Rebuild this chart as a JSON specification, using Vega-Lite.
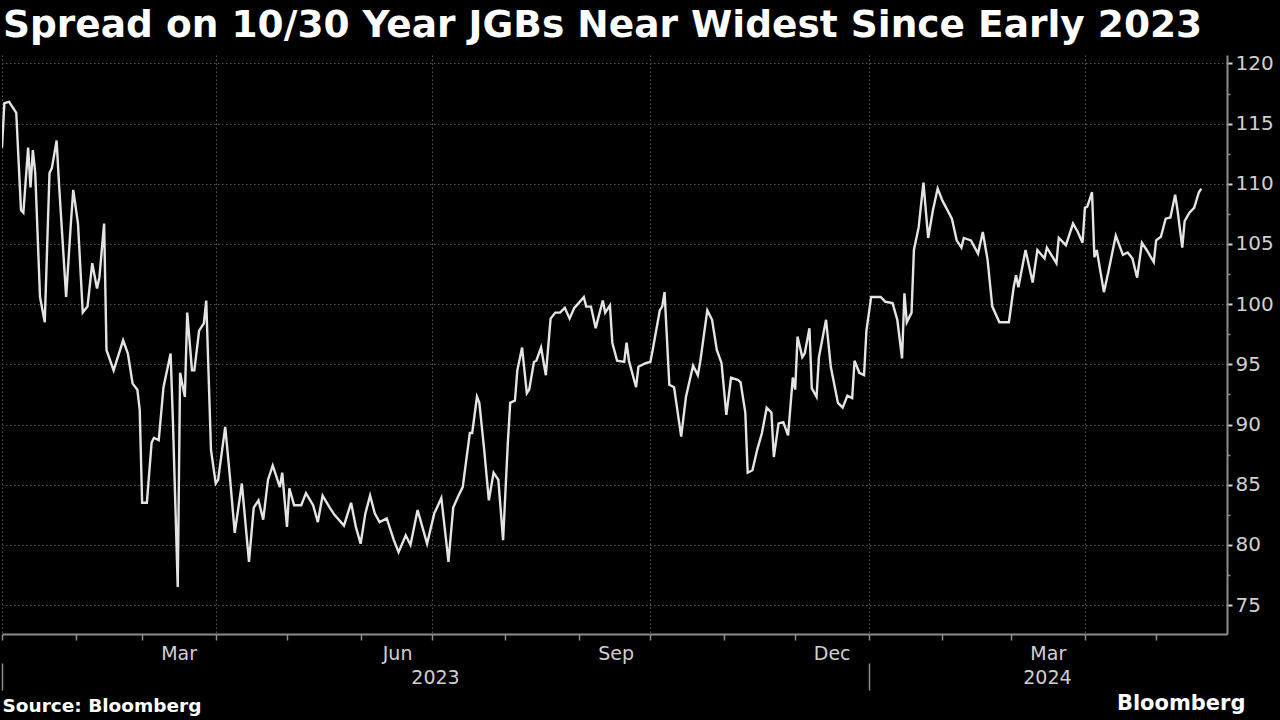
{
  "$schema": "https://vega.github.io/schema/vega-lite/v6.json",
  "width": 1225,
  "height": 579,
  "autosize": {"type": "none"},
  "padding": {"left": 2, "top": 55, "right": 53, "bottom": 86},
  "background": "#000000",
  "config": {"view": {"stroke": null}, "axis": {"labelFont": "DejaVu Sans", "titleFont": "DejaVu Sans"}},
  "title": {"text": "Spread on 10/30 Year JGBs Near Widest Since Early 2023", "anchor": "start", "frame": "group", "font": "DejaVu Sans", "fontWeight": "bold", "fontSize": 37.5, "color": "#ffffff", "offset": 16, "baseline": "alphabetic", "dx": 1, "dy": 37},
  "data": {
    "format": {"parse": {"date": "date:'%Y-%m-%d'"}},
    "values": [
      {"date":"2023-01-01","value":113.0},{"date":"2023-01-02","value":116.7},{"date":"2023-01-04","value":116.8},{"date":"2023-01-07","value":115.9},
      {"date":"2023-01-09","value":107.8},{"date":"2023-01-10","value":107.6},{"date":"2023-01-12","value":113.0},{"date":"2023-01-13","value":109.7},
      {"date":"2023-01-14","value":112.8},{"date":"2023-01-15","value":110.9},{"date":"2023-01-17","value":100.6},{"date":"2023-01-19","value":98.5},
      {"date":"2023-01-21","value":110.9},{"date":"2023-01-22","value":111.3},{"date":"2023-01-24","value":113.6},{"date":"2023-01-25","value":110.0},
      {"date":"2023-01-28","value":100.6},{"date":"2023-01-30","value":106.7},{"date":"2023-01-31","value":109.5},{"date":"2023-02-02","value":106.7},
      {"date":"2023-02-04","value":99.3},{"date":"2023-02-06","value":99.8},{"date":"2023-02-08","value":103.4},{"date":"2023-02-10","value":101.3},
      {"date":"2023-02-11","value":102.2},{"date":"2023-02-13","value":106.7},{"date":"2023-02-14","value":96.2},{"date":"2023-02-17","value":94.5},
      {"date":"2023-02-21","value":97.0},{"date":"2023-02-23","value":95.9},{"date":"2023-02-25","value":93.4},{"date":"2023-02-27","value":92.9},
      {"date":"2023-02-28","value":91.2},{"date":"2023-03-01","value":83.5},{"date":"2023-03-03","value":83.5},{"date":"2023-03-05","value":88.5},
      {"date":"2023-03-06","value":88.9},{"date":"2023-03-08","value":88.7},{"date":"2023-03-10","value":93.1},{"date":"2023-03-13","value":95.9},
      {"date":"2023-03-14","value":90.1},{"date":"2023-03-16","value":76.5},{"date":"2023-03-17","value":94.3},{"date":"2023-03-19","value":92.3},
      {"date":"2023-03-20","value":99.3},{"date":"2023-03-22","value":94.5},{"date":"2023-03-23","value":94.5},{"date":"2023-03-25","value":97.8},
      {"date":"2023-03-27","value":98.4},{"date":"2023-03-28","value":100.3},{"date":"2023-03-30","value":87.9},{"date":"2023-04-01","value":85.1},
      {"date":"2023-04-02","value":85.4},{"date":"2023-04-05","value":89.8},{"date":"2023-04-07","value":85.6},{"date":"2023-04-09","value":81.0},
      {"date":"2023-04-12","value":85.1},{"date":"2023-04-15","value":78.6},{"date":"2023-04-17","value":83.1},{"date":"2023-04-19","value":83.7},
      {"date":"2023-04-21","value":82.1},{"date":"2023-04-23","value":85.4},{"date":"2023-04-25","value":86.6},{"date":"2023-04-28","value":84.8},
      {"date":"2023-04-29","value":86.0},{"date":"2023-05-01","value":81.5},{"date":"2023-05-02","value":84.7},{"date":"2023-05-04","value":83.3},
      {"date":"2023-05-07","value":83.3},{"date":"2023-05-09","value":84.3},{"date":"2023-05-12","value":83.3},{"date":"2023-05-14","value":81.9},
      {"date":"2023-05-16","value":84.1},{"date":"2023-05-19","value":83.1},{"date":"2023-05-21","value":82.5},{"date":"2023-05-25","value":81.6},
      {"date":"2023-05-28","value":83.5},{"date":"2023-05-30","value":81.5},{"date":"2023-06-01","value":80.1},{"date":"2023-06-03","value":82.6},
      {"date":"2023-06-05","value":84.1},{"date":"2023-06-07","value":82.6},{"date":"2023-06-09","value":81.9},{"date":"2023-06-12","value":82.2},
      {"date":"2023-06-15","value":80.4},{"date":"2023-06-17","value":79.4},{"date":"2023-06-20","value":80.8},{"date":"2023-06-22","value":80.0},
      {"date":"2023-06-25","value":82.9},{"date":"2023-06-27","value":81.5},{"date":"2023-06-29","value":80.1},{"date":"2023-07-02","value":82.6},
      {"date":"2023-07-05","value":83.9},{"date":"2023-07-07","value":80.4},{"date":"2023-07-08","value":78.6},{"date":"2023-07-10","value":83.1},
      {"date":"2023-07-12","value":84.0},{"date":"2023-07-14","value":84.8},{"date":"2023-07-17","value":89.3},{"date":"2023-07-18","value":89.3},
      {"date":"2023-07-20","value":92.3},{"date":"2023-07-21","value":91.8},{"date":"2023-07-23","value":88.0},{"date":"2023-07-25","value":83.7},
      {"date":"2023-07-27","value":86.0},{"date":"2023-07-29","value":85.4},{"date":"2023-07-31","value":80.4},{"date":"2023-08-02","value":88.5},
      {"date":"2023-08-03","value":91.8},{"date":"2023-08-05","value":92.0},{"date":"2023-08-06","value":94.5},{"date":"2023-08-08","value":96.4},
      {"date":"2023-08-10","value":92.6},{"date":"2023-08-11","value":92.9},{"date":"2023-08-13","value":95.2},{"date":"2023-08-14","value":95.3},
      {"date":"2023-08-16","value":96.4},{"date":"2023-08-18","value":94.1},{"date":"2023-08-20","value":98.8},{"date":"2023-08-22","value":99.3},
      {"date":"2023-08-24","value":99.3},{"date":"2023-08-26","value":99.7},{"date":"2023-08-28","value":98.8},{"date":"2023-08-30","value":99.7},
      {"date":"2023-08-31","value":99.9},{"date":"2023-09-03","value":100.6},{"date":"2023-09-04","value":99.8},{"date":"2023-09-06","value":99.8},
      {"date":"2023-09-08","value":98.0},{"date":"2023-09-09","value":98.8},{"date":"2023-09-11","value":100.3},{"date":"2023-09-12","value":99.3},
      {"date":"2023-09-14","value":99.9},{"date":"2023-09-15","value":96.8},{"date":"2023-09-17","value":95.3},{"date":"2023-09-20","value":95.2},
      {"date":"2023-09-21","value":96.8},{"date":"2023-09-22","value":95.3},{"date":"2023-09-25","value":93.1},{"date":"2023-09-26","value":94.8},
      {"date":"2023-09-29","value":95.1},{"date":"2023-10-01","value":95.2},{"date":"2023-10-02","value":96.2},{"date":"2023-10-05","value":99.5},
      {"date":"2023-10-06","value":99.8},{"date":"2023-10-07","value":101.0},{"date":"2023-10-09","value":93.3},{"date":"2023-10-11","value":93.1},
      {"date":"2023-10-14","value":89.0},{"date":"2023-10-16","value":92.3},{"date":"2023-10-19","value":94.9},{"date":"2023-10-21","value":94.1},
      {"date":"2023-10-22","value":95.2},{"date":"2023-10-25","value":99.5},{"date":"2023-10-27","value":98.7},{"date":"2023-10-29","value":96.2},
      {"date":"2023-10-31","value":95.1},{"date":"2023-11-02","value":90.8},{"date":"2023-11-04","value":93.9},{"date":"2023-11-07","value":93.7},
      {"date":"2023-11-08","value":93.5},{"date":"2023-11-10","value":91.0},{"date":"2023-11-11","value":86.0},{"date":"2023-11-13","value":86.2},
      {"date":"2023-11-15","value":87.9},{"date":"2023-11-17","value":89.3},{"date":"2023-11-19","value":91.4},{"date":"2023-11-21","value":91.0},
      {"date":"2023-11-22","value":87.3},{"date":"2023-11-24","value":90.1},{"date":"2023-11-26","value":90.2},{"date":"2023-11-28","value":89.1},
      {"date":"2023-11-30","value":93.9},{"date":"2023-12-01","value":92.9},{"date":"2023-12-02","value":97.3},{"date":"2023-12-04","value":95.6},
      {"date":"2023-12-05","value":95.9},{"date":"2023-12-07","value":98.0},{"date":"2023-12-08","value":93.0},{"date":"2023-12-10","value":92.3},
      {"date":"2023-12-11","value":95.6},{"date":"2023-12-14","value":98.7},{"date":"2023-12-16","value":94.8},{"date":"2023-12-19","value":91.8},
      {"date":"2023-12-21","value":91.4},{"date":"2023-12-23","value":92.4},{"date":"2023-12-25","value":92.2},{"date":"2023-12-26","value":95.3},
      {"date":"2023-12-28","value":94.3},{"date":"2023-12-30","value":94.1},{"date":"2023-12-31","value":97.8},{"date":"2024-01-02","value":100.6},
      {"date":"2024-01-06","value":100.6},{"date":"2024-01-08","value":100.2},{"date":"2024-01-11","value":100.1},{"date":"2024-01-13","value":98.7},
      {"date":"2024-01-15","value":95.5},{"date":"2024-01-16","value":100.9},{"date":"2024-01-17","value":98.5},{"date":"2024-01-19","value":99.3},
      {"date":"2024-01-20","value":104.5},{"date":"2024-01-22","value":106.4},{"date":"2024-01-24","value":110.1},{"date":"2024-01-26","value":105.5},
      {"date":"2024-01-28","value":107.8},{"date":"2024-01-30","value":109.6},{"date":"2024-02-01","value":108.6},{"date":"2024-02-05","value":107.1},
      {"date":"2024-02-07","value":105.3},{"date":"2024-02-09","value":104.7},{"date":"2024-02-10","value":105.5},{"date":"2024-02-13","value":105.3},
      {"date":"2024-02-16","value":104.2},{"date":"2024-02-18","value":106.0},{"date":"2024-02-20","value":103.7},{"date":"2024-02-22","value":99.8},
      {"date":"2024-02-25","value":98.5},{"date":"2024-02-29","value":98.5},{"date":"2024-03-02","value":101.4},{"date":"2024-03-03","value":102.4},
      {"date":"2024-03-04","value":101.4},{"date":"2024-03-07","value":104.5},{"date":"2024-03-10","value":101.8},{"date":"2024-03-12","value":104.5},
      {"date":"2024-03-15","value":103.8},{"date":"2024-03-16","value":104.7},{"date":"2024-03-20","value":103.4},{"date":"2024-03-21","value":105.5},
      {"date":"2024-03-24","value":104.9},{"date":"2024-03-27","value":106.7},{"date":"2024-03-29","value":106.0},{"date":"2024-03-31","value":105.1},
      {"date":"2024-04-01","value":108.0},{"date":"2024-04-02","value":108.1},{"date":"2024-04-04","value":109.3},{"date":"2024-04-05","value":103.9},
      {"date":"2024-04-06","value":104.5},{"date":"2024-04-09","value":101.0},{"date":"2024-04-11","value":102.8},{"date":"2024-04-14","value":105.7},
      {"date":"2024-04-17","value":104.1},{"date":"2024-04-19","value":104.3},{"date":"2024-04-21","value":103.8},{"date":"2024-04-23","value":102.2},
      {"date":"2024-04-25","value":105.1},{"date":"2024-04-27","value":104.5},{"date":"2024-04-30","value":103.5},{"date":"2024-05-01","value":105.3},
      {"date":"2024-05-03","value":105.6},{"date":"2024-05-05","value":107.1},{"date":"2024-05-07","value":107.2},{"date":"2024-05-09","value":109.1},
      {"date":"2024-05-10","value":107.8},{"date":"2024-05-12","value":104.7},{"date":"2024-05-13","value":106.9},{"date":"2024-05-15","value":107.6},
      {"date":"2024-05-17","value":108.0},{"date":"2024-05-19","value":109.3},{"date":"2024-05-20","value":109.6}
    ]
  },
  "layer": [
    {
      "mark": {"type": "line", "color": "#e4e4e4", "strokeWidth": 2.4, "clip": true},
      "encoding": {
        "x": {
          "field": "date", "type": "temporal",
          "scale": {"domain": [{"year": 2023, "month": 1, "date": 1}, {"year": 2024, "month": 5, "date": 30, "hours": 20}]},
          "axis": {
            "orient": "bottom",
            "tickCount": {"interval": "month", "step": 1},
            "format": "%b",
            "labelExpr": "(month(datum.value) % 3 == 2) ? datum.label : ''",
            "labelOffset": 36.5, "labelAlign": "center", "labelFontSize": 19, "labelColor": "#d0d0d0", "labelPadding": 4,
            "labelFlush": false, "labelOverlap": false, "labelBound": false,
            "domain": true, "domainColor": "#8c8c8c", "domainWidth": 2,
            "ticks": true, "tickColor": "#8c8c8c", "tickSize": 6, "tickWidth": 1.5,
            "grid": true, "gridColor": "#555555", "gridDash": [1.5, 2.5], "gridWidth": 1,
            "gridOpacity": {"condition": {"test": "month(datum.value) % 3 == 0", "value": 1}, "value": 0},
            "title": "Bloomberg", "titleFont": "DejaVu Sans", "titleFontWeight": "bold", "titleFontSize": 21, "titleColor": "#ffffff",
            "titleAnchor": "start", "titleAlign": "right", "titleBaseline": "middle", "titleX": 1243, "titleY": 69
          }
        },
        "y": {
          "field": "value", "type": "quantitative",
          "scale": {"domain": [72.6, 120.7], "nice": false, "zero": false},
          "axis": {
            "orient": "right",
            "values": [75, 80, 85, 90, 95, 100, 105, 110, 115, 120],
            "domain": true, "domainColor": "#8c8c8c", "domainWidth": 2,
            "ticks": true, "tickColor": "#d0d0d0", "tickSize": 5, "tickWidth": 2,
            "labelFontSize": 20, "labelColor": "#d0d0d0", "labelPadding": 3, "labelAlign": "left", "labelBaseline": "middle",
            "grid": true, "gridColor": "#555555", "gridDash": [1.5, 2.5], "gridWidth": 1,
            "title": null
          }
        }
      }
    },
    {
      "mark": {"type": "line", "opacity": 0},
      "encoding": {
        "x": {
          "field": "date", "type": "temporal",
          "axis": {
            "orient": "bottom", "offset": 29,
            "values": [{"year": 2023, "month": 1, "date": 1}, {"year": 2023, "month": 7, "date": 2, "hours": 8}, {"year": 2024, "month": 1, "date": 1}, {"year": 2024, "month": 3, "date": 16}],
            "domain": false, "grid": false,
            "ticks": true, "tickSize": 27, "tickColor": "#8c8c8c", "tickWidth": 1.5,
            "tickOpacity": {"condition": {"test": "date(datum.value) == 1", "value": 1}, "value": 0},
            "labelExpr": "date(datum.value) == 1 ? '' : timeFormat(datum.value, '%Y')",
            "labelFontSize": 19, "labelColor": "#d0d0d0", "labelPadding": -22, "labelAlign": "center",
            "labelFlush": false, "labelOverlap": false, "labelBound": false,
            "title": "Source: Bloomberg", "titleFont": "DejaVu Sans", "titleFontWeight": "bold", "titleFontSize": 18.5, "titleColor": "#ffffff",
            "titleAnchor": "start", "titleAlign": "left", "titleBaseline": "middle", "titleX": 0, "titleY": 42
          }
        },
        "y": {
          "field": "value", "type": "quantitative",
          "axis": {
            "orient": "right",
            "values": [77.5, 82.5, 87.5, 92.5, 97.5, 102.5, 107.5, 112.5, 117.5],
            "domain": false, "grid": false, "labels": false,
            "ticks": true, "tickColor": "#8c8c8c", "tickSize": 3, "tickWidth": 1.5,
            "title": null
          }
        }
      }
    }
  ],
  "resolve": {"axis": {"x": "independent", "y": "independent"}}
}
